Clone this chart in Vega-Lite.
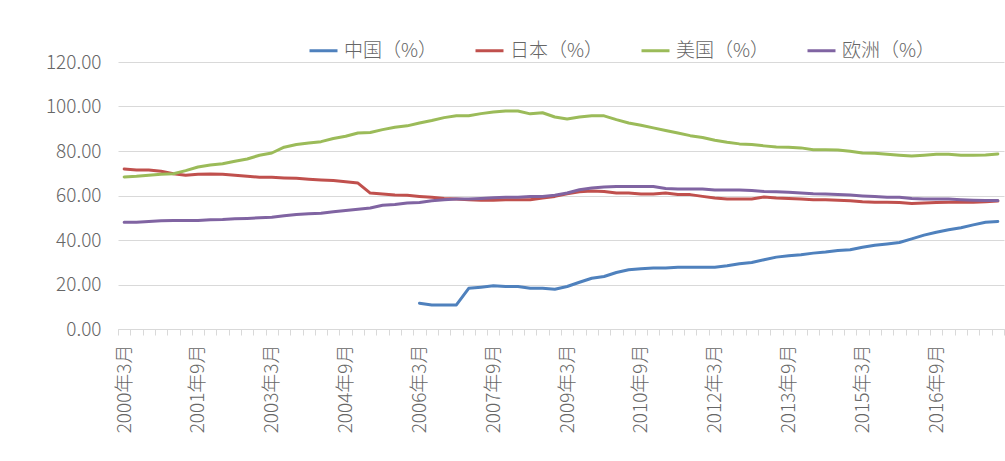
{
  "$schema": "https://vega.github.io/schema/vega-lite/v6.json",
  "autosize": {"type": "none"},
  "padding": {"left": 118, "top": 62, "right": 1, "bottom": 132},
  "width": 886,
  "height": 267,
  "background": "#ffffff",
  "config": {
    "view": {"stroke": null},
    "font": "Noto Sans CJK SC"
  },
  "data": {
    "values": [
      {"q": "2000年3月", "日本": 71.9, "美国": 68.3, "欧洲": 48.0},
      {"q": "2000年6月", "日本": 71.5, "美国": 68.6, "欧洲": 48.0},
      {"q": "2000年9月", "日本": 71.5, "美国": 69.1, "欧洲": 48.3},
      {"q": "2000年12月", "日本": 70.9, "美国": 69.5, "欧洲": 48.6},
      {"q": "2001年3月", "日本": 69.8, "美国": 69.8, "欧洲": 48.8},
      {"q": "2001年6月", "日本": 69.1, "美国": 71.2, "欧洲": 48.8},
      {"q": "2001年9月", "日本": 69.5, "美国": 72.8, "欧洲": 48.8},
      {"q": "2001年12月", "日本": 69.7, "美国": 73.7, "欧洲": 49.1},
      {"q": "2002年3月", "日本": 69.5, "美国": 74.3, "欧洲": 49.2},
      {"q": "2002年6月", "日本": 69.1, "美国": 75.4, "欧洲": 49.5},
      {"q": "2002年9月", "日本": 68.6, "美国": 76.4, "欧洲": 49.7},
      {"q": "2002年12月", "日本": 68.2, "美国": 78.1, "欧洲": 50.0},
      {"q": "2003年3月", "日本": 68.2, "美国": 79.1, "欧洲": 50.2},
      {"q": "2003年6月", "日本": 67.9, "美国": 81.7, "欧洲": 50.9},
      {"q": "2003年9月", "日本": 67.7, "美国": 82.9, "欧洲": 51.5},
      {"q": "2003年12月", "日本": 67.3, "美国": 83.6, "欧洲": 51.8},
      {"q": "2004年3月", "日本": 67.0, "美国": 84.2, "欧洲": 52.0},
      {"q": "2004年6月", "日本": 66.7, "美国": 85.6, "欧洲": 52.7},
      {"q": "2004年9月", "日本": 66.2, "美国": 86.6, "欧洲": 53.3},
      {"q": "2004年12月", "日本": 65.6, "美国": 88.1, "欧洲": 53.8},
      {"q": "2005年3月", "日本": 61.1, "美国": 88.3, "欧洲": 54.4},
      {"q": "2005年6月", "日本": 60.7, "美国": 89.6, "欧洲": 55.6},
      {"q": "2005年9月", "日本": 60.2, "美国": 90.7, "欧洲": 56.0},
      {"q": "2005年12月", "日本": 60.1, "美国": 91.3, "欧洲": 56.6},
      {"q": "2006年3月", "中国": 11.6, "日本": 59.6, "美国": 92.6, "欧洲": 56.9},
      {"q": "2006年6月", "中国": 10.8, "日本": 59.2, "美国": 93.7, "欧洲": 57.6},
      {"q": "2006年9月", "中国": 10.8, "日本": 58.7, "美国": 95.0, "欧洲": 58.1},
      {"q": "2006年12月", "中国": 10.8, "日本": 58.4, "美国": 95.8, "欧洲": 58.4},
      {"q": "2007年3月", "中国": 18.3, "日本": 58.1, "美国": 95.8, "欧洲": 58.4},
      {"q": "2007年6月", "中国": 18.8, "日本": 57.9, "美国": 96.8, "欧洲": 58.7},
      {"q": "2007年9月", "中国": 19.4, "日本": 57.9, "美国": 97.5, "欧洲": 59.0},
      {"q": "2007年12月", "中国": 19.1, "日本": 58.1, "美国": 98.0, "欧洲": 59.2},
      {"q": "2008年3月", "中国": 19.1, "日本": 58.1, "美国": 98.0, "欧洲": 59.2},
      {"q": "2008年6月", "中国": 18.3, "日本": 58.1, "美国": 96.7, "欧洲": 59.6},
      {"q": "2008年9月", "中国": 18.3, "日本": 58.9, "美国": 97.2, "欧洲": 59.6},
      {"q": "2008年12月", "中国": 17.9, "日本": 59.6, "美国": 95.3, "欧洲": 60.1},
      {"q": "2009年3月", "中国": 19.1, "日本": 60.8, "美国": 94.4, "欧洲": 61.1},
      {"q": "2009年6月", "中国": 21.0, "日本": 61.7, "美国": 95.3, "欧洲": 62.6},
      {"q": "2009年9月", "中国": 22.8, "日本": 62.0, "美国": 95.8, "欧洲": 63.4},
      {"q": "2009年12月", "中国": 23.6, "日本": 61.8, "美国": 95.8, "欧洲": 63.8},
      {"q": "2010年3月", "中国": 25.4, "日本": 61.1, "美国": 94.1, "欧洲": 64.0},
      {"q": "2010年6月", "中国": 26.6, "日本": 61.1, "美国": 92.6, "欧洲": 64.0},
      {"q": "2010年9月", "中国": 27.1, "日本": 60.7, "美国": 91.6, "欧洲": 64.0},
      {"q": "2010年12月", "中国": 27.4, "日本": 60.7, "美国": 90.4, "欧洲": 64.0},
      {"q": "2011年3月", "中国": 27.4, "日本": 61.1, "美国": 89.2, "欧洲": 63.1},
      {"q": "2011年6月", "中国": 27.7, "日本": 60.4, "美国": 88.1, "欧洲": 62.9},
      {"q": "2011年9月", "中国": 27.8, "日本": 60.4, "美国": 86.9, "欧洲": 62.9},
      {"q": "2011年12月", "中国": 27.8, "日本": 59.6, "美国": 86.1, "欧洲": 62.9},
      {"q": "2012年3月", "中国": 27.8, "日本": 58.9, "美国": 84.8, "欧洲": 62.5},
      {"q": "2012年6月", "中国": 28.4, "日本": 58.4, "美国": 83.9, "欧洲": 62.5},
      {"q": "2012年9月", "中国": 29.3, "日本": 58.4, "美国": 83.2, "欧洲": 62.5},
      {"q": "2012年12月", "中国": 29.9, "日本": 58.4, "美国": 82.9, "欧洲": 62.3},
      {"q": "2013年3月", "中国": 31.1, "日本": 59.3, "美国": 82.3, "欧洲": 61.8},
      {"q": "2013年6月", "中国": 32.3, "日本": 58.9, "美国": 81.8, "欧洲": 61.7},
      {"q": "2013年9月", "中国": 32.9, "日本": 58.7, "美国": 81.7, "欧洲": 61.5},
      {"q": "2013年12月", "中国": 33.4, "日本": 58.4, "美国": 81.4, "欧洲": 61.1},
      {"q": "2014年3月", "中国": 34.1, "日本": 58.1, "美国": 80.6, "欧洲": 60.8},
      {"q": "2014年6月", "中国": 34.6, "日本": 58.1, "美国": 80.6, "欧洲": 60.7},
      {"q": "2014年9月", "中国": 35.3, "日本": 57.9, "美国": 80.5, "欧洲": 60.5},
      {"q": "2014年12月", "中国": 35.6, "日本": 57.6, "美国": 79.9, "欧洲": 60.2},
      {"q": "2015年3月", "中国": 36.7, "日本": 57.2, "美国": 79.1, "欧洲": 59.8},
      {"q": "2015年6月", "中国": 37.6, "日本": 57.0, "美国": 79.0, "欧洲": 59.5},
      {"q": "2015年9月", "中国": 38.2, "日本": 57.0, "美国": 78.5, "欧洲": 59.2},
      {"q": "2015年12月", "中国": 38.9, "日本": 56.9, "美国": 78.1, "欧洲": 59.2},
      {"q": "2016年3月", "中国": 40.5, "日本": 56.4, "美国": 77.8, "欧洲": 58.6},
      {"q": "2016年6月", "中国": 42.2, "日本": 56.6, "美国": 78.1, "欧洲": 58.4},
      {"q": "2016年9月", "中国": 43.5, "日本": 56.9, "美国": 78.5, "欧洲": 58.4},
      {"q": "2016年12月", "中国": 44.6, "日本": 57.0, "美国": 78.5, "欧洲": 58.4},
      {"q": "2017年3月", "中国": 45.5, "日本": 57.0, "美国": 78.1, "欧洲": 58.1},
      {"q": "2017年6月", "中国": 46.8, "日本": 57.0, "美国": 78.1, "欧洲": 57.9},
      {"q": "2017年9月", "中国": 48.0, "日本": 57.2, "美国": 78.2, "欧洲": 57.8},
      {"q": "2017年12月", "中国": 48.3, "日本": 57.5, "美国": 78.7, "欧洲": 57.8}
    ]
  },
  "transform": [
    {"fold": ["中国", "日本", "美国", "欧洲"], "as": ["s", "v"]},
    {"filter": "isValid(datum.v)"}
  ],
  "mark": {"type": "line", "strokeWidth": 3, "strokeJoin": "round", "strokeCap": "round"},
  "encoding": {
    "x": {
      "field": "q",
      "type": "ordinal",
      "sort": null,
      "scale": {"type": "band", "paddingInner": 0, "paddingOuter": 0},
      "axis": {
        "title": null,
        "tickBand": "extent",
        "tickSize": 6,
        "tickColor": "#d9d9d9",
        "domainColor": "#d9d9d9",
        "grid": false,
        "labelAngle": -90,
        "labelAlign": "right",
        "labelBaseline": "middle",
        "labelPadding": 9,
        "labelOverlap": false,
        "labelBound": false,
        "labelFontSize": 19,
        "labelFontWeight": 300,
        "labelColor": "#666666",
        "labelFont": "Noto Sans CJK SC",
        "labelExpr": "indexof(['2000年3月','2001年9月','2003年3月','2004年9月','2006年3月','2007年9月','2009年3月','2010年9月','2012年3月','2013年9月','2015年3月','2016年9月'], datum.value) >= 0 ? datum.label : ''"
      }
    },
    "y": {
      "field": "v",
      "type": "quantitative",
      "scale": {"domain": [0, 120], "nice": false, "zero": true},
      "axis": {
        "title": null,
        "values": [0, 20, 40, 60, 80, 100, 120],
        "format": ".2f",
        "domain": false,
        "ticks": false,
        "grid": true,
        "gridColor": "#d9d9d9",
        "gridWidth": 1,
        "labelPadding": 17,
        "labelFontSize": 19,
        "labelFontWeight": 300,
        "labelColor": "#666666",
        "labelFont": "Noto Sans CJK SC"
      }
    },
    "color": {
      "field": "s",
      "type": "nominal",
      "scale": {
        "domain": ["中国", "日本", "美国", "欧洲"],
        "range": ["#4F81BD", "#C0504D", "#9BBB59", "#8064A2"]
      },
      "legend": {
        "orient": "none",
        "legendX": 190,
        "legendY": -27,
        "direction": "horizontal",
        "title": null,
        "symbolType": "stroke",
        "symbolSize": 784,
        "symbolStrokeWidth": 3,
        "labelFontSize": 19,
        "labelFontWeight": 300,
        "labelFont": "Noto Sans CJK SC",
        "labelColor": "#666666",
        "labelOffset": 5,
        "columnPadding": 31,
        "labelExpr": "datum.label + '（%）'"
      }
    }
  }
}
